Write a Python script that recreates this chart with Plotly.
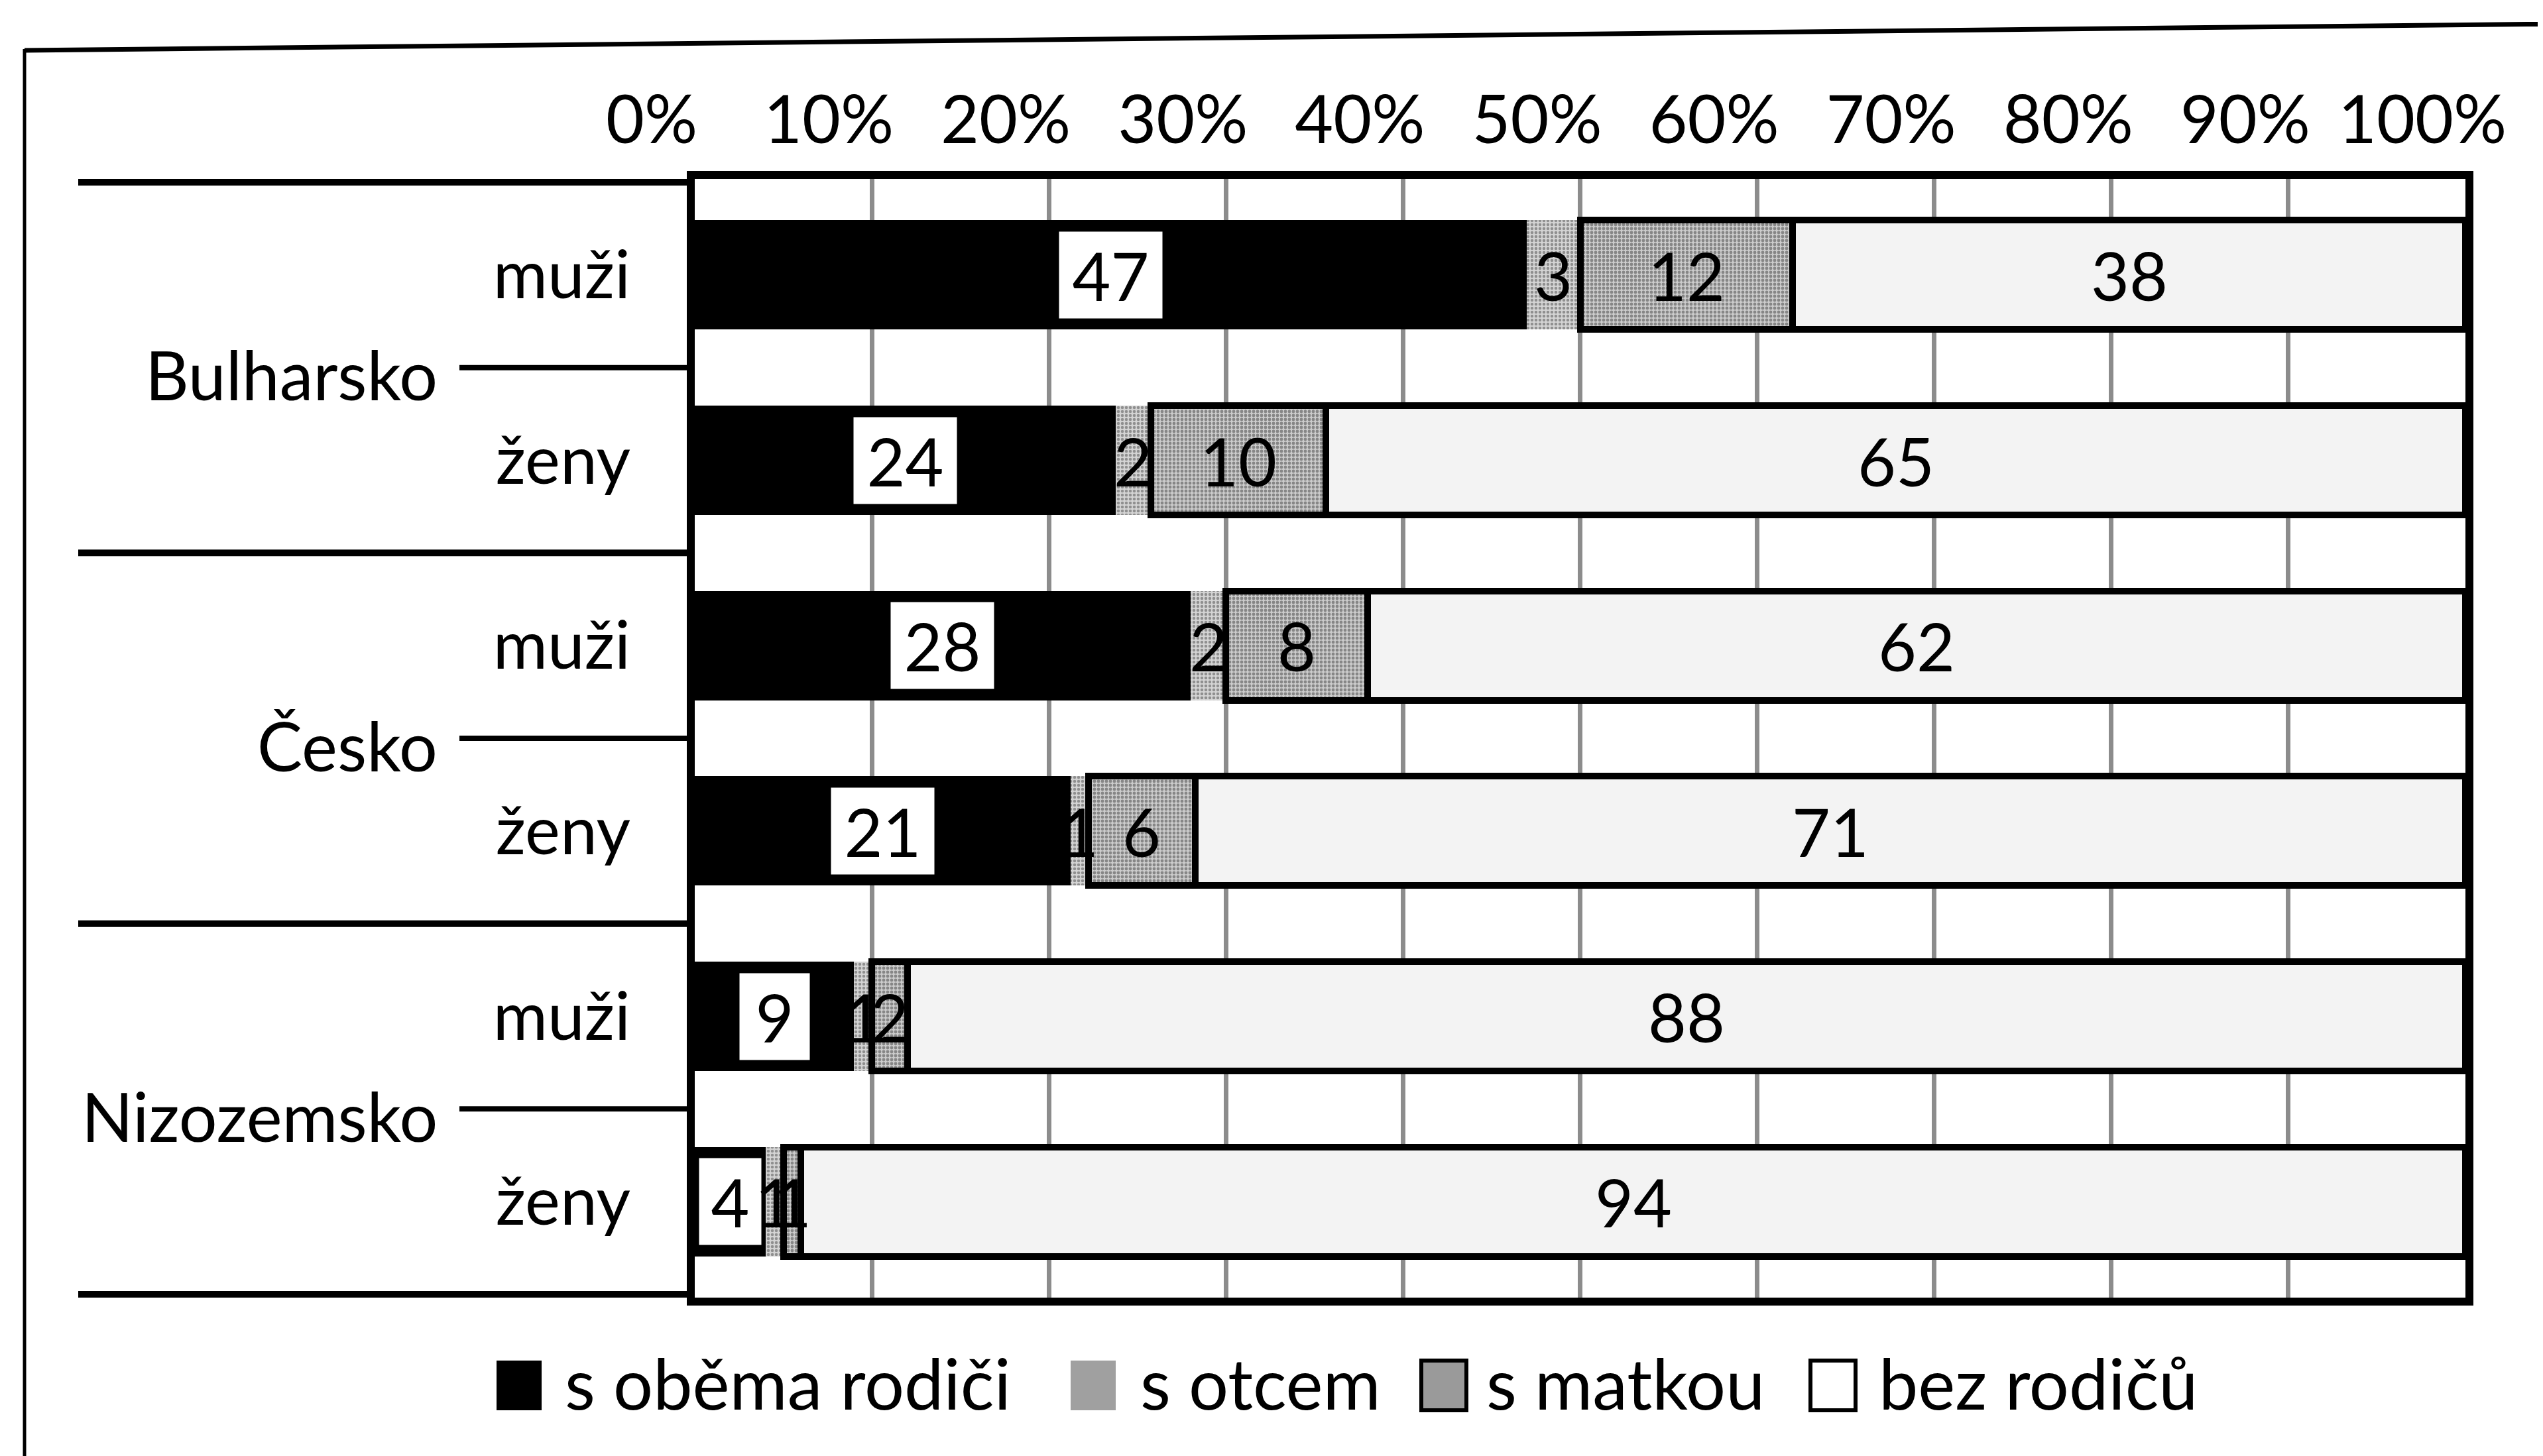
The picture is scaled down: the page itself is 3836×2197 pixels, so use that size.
import plotly.graph_objects as go

# ---------------- data ----------------
countries = ["Bulharsko", "Česko", "Nizozemsko"]
sexes = ["muži", "ženy"]
series_names = ["s oběma rodiči", "s otcem", "s matkou", "bez rodičů"]
both_parents = [47, 24, 28, 21, 9, 4]
father_only = [3, 2, 2, 1, 1, 1]
mother_only = [12, 10, 8, 6, 2, 1]
no_parents = [38, 65, 62, 71, 88, 94]
x_tick_values = [0, 10, 20, 30, 40, 50, 60, 70, 80, 90, 100]
x_tick_labels = ["0%", "10%", "20%", "30%", "40%", "50%", "60%", "70%", "80%", "90%", "100%"]

series_values = [both_parents, father_only, mother_only, no_parents]
row_keys = [f"{c}|{s}" for c in countries for s in sexes]
row_labels = [s for c in countries for s in sexes]

# ---------------- layout geometry (pixels) ----------------
W, H = 3836, 2197
L, R, T, B = 1040, 3711, 262, 1950
PW, PH = R - L, B - T
FONT = "Lato"
FS = 100
LEG_FS = 106


def px_x(X):
    return (X - L) / PW


def px_y(Y):
    return (B - Y) / PH


fills = ["#000000", "#a3a3a3", "#9c9c9c", "#f3f3f3"]
line_w = [0, 0, 10, 10]
patterns = [
    None,
    dict(shape=".", fgcolor="#4a4a4a", bgcolor="#d4d4d4", size=6, solidity=0.45),
    dict(shape=".", fgcolor="#404040", bgcolor="#cccccc", size=6, solidity=0.5),
    None,
]

fig = go.Figure()
for k, name in enumerate(series_names):
    marker = dict(color=fills[k], line=dict(color="#000000", width=line_w[k]))
    if patterns[k]:
        marker["pattern"] = patterns[k]
    fig.add_trace(go.Bar(
        x=series_values[k], y=row_keys, name=name, orientation="h",
        marker=marker, textposition="none", hoverinfo="x+y+name",
        showlegend=False,
    ))

annotations = []
# data labels
for i, key in enumerate(row_keys):
    vals = [series_values[k][i] for k in range(len(series_names))]
    total = sum(vals)
    cum = 0
    for k, v in enumerate(vals):
        share = v / total * 100
        center = (cum + v / 2) / total * 100
        cum += v
        if k == 0:
            seg_px = share / 100 * PW
            box_w = min(50 * len(str(v)) + 45, seg_px - 24)
            annotations.append(dict(
                x=center, y=key, xref="x", yref="y", showarrow=False,
                text=str(v), bgcolor="#ffffff", borderpad=5, width=box_w,
                align="center",
                font=dict(family=FONT, size=FS, color="#000000"),
            ))
        else:
            annotations.append(dict(
                x=center, y=key, xref="x", yref="y", showarrow=False,
                text=str(v), font=dict(family=FONT, size=FS, color="#000000"),
            ))

# group labels
for g, c in enumerate(countries):
    annotations.append(dict(
        x=px_x(654), xref="paper", y=2 * g + 0.5, yref="y", xanchor="right",
        yshift=-10, showarrow=False, text=c,
        font=dict(family=FONT, size=FS + 2, color="#000000"),
    ))

shapes = []
# outer dividers
for yb in [-0.5, 1.5, 3.5, 5.5]:
    shapes.append(dict(type="line", xref="paper", yref="y", x0=px_x(110), x1=0,
                       y0=yb, y1=yb, line=dict(color="#000000", width=10)))
# inner dividers
for g in range(len(countries)):
    shapes.append(dict(type="line", xref="paper", yref="y", x0=px_x(685), x1=0,
                       y0=2 * g + 0.5, y1=2 * g + 0.5, line=dict(color="#000000", width=8)))

# outer frame
shapes.append(dict(type="line", xref="paper", yref="paper", x0=px_x(29), x1=px_x(29),
                   y0=px_y(66), y1=px_y(W), line=dict(color="#000000", width=5)))
shapes.append(dict(type="line", xref="paper", yref="paper", x0=px_x(29), x1=px_x(W + 20),
                   y0=px_y(68), y1=px_y(28), line=dict(color="#000000", width=7)))

# manual legend
leg_box_x = [741, 1607, 2136, 2723]
leg_text_x = [842, 1710, 2232, 2824]
leg_fill = ["#000000", "#a0a0a0", "#9a9a9a", "#ffffff"]
leg_border = [0, 0, 6, 6]
leg_y0, leg_y1, leg_yc = 2045, 2120, 2078
for k, name in enumerate(series_names):
    shapes.append(dict(
        type="rect", xref="paper", yref="paper",
        x0=px_x(leg_box_x[k]), x1=px_x(leg_box_x[k] + 68),
        y0=px_y(leg_y1), y1=px_y(leg_y0),
        fillcolor=leg_fill[k],
        line=dict(color="#000000", width=leg_border[k]) if leg_border[k] else dict(width=0),
    ))
    annotations.append(dict(
        x=px_x(leg_text_x[k]), y=px_y(leg_yc), xref="paper", yref="paper",
        xanchor="left", yanchor="middle", showarrow=False, text=name,
        font=dict(family=FONT, size=LEG_FS, color="#000000"),
    ))

fig.update_layout(
    width=W, height=H,
    margin=dict(l=L, r=W - R, t=T, b=H - B),
    barmode="stack", barnorm="percent", bargap=0.41,
    paper_bgcolor="#ffffff", plot_bgcolor="#ffffff",
    font=dict(family=FONT, size=FS, color="#000000"),
    showlegend=False,
    annotations=annotations, shapes=shapes,
    xaxis=dict(
        side="top", range=[0, 100], tickmode="array",
        tickvals=x_tick_values, ticktext=x_tick_labels,
        showgrid=True, gridcolor="#8c8c8c", gridwidth=7, zeroline=False,
        showline=True, linewidth=12, linecolor="#000000", mirror=True,
        ticks="", ticklabelstandoff=2, ticklabelshift=-65,
        tickfont=dict(family=FONT, size=FS, color="#000000"),
        fixedrange=True,
    ),
    yaxis=dict(
        type="category", autorange="reversed", tickmode="array",
        tickvals=row_keys, ticktext=row_labels,
        showgrid=False, zeroline=False,
        showline=True, linewidth=12, linecolor="#000000", mirror=True,
        ticks="", ticklabelstandoff=65,
        tickfont=dict(family=FONT, size=FS, color="#000000"),
        fixedrange=True,
    ),
)

fig.write_html("out.html")
